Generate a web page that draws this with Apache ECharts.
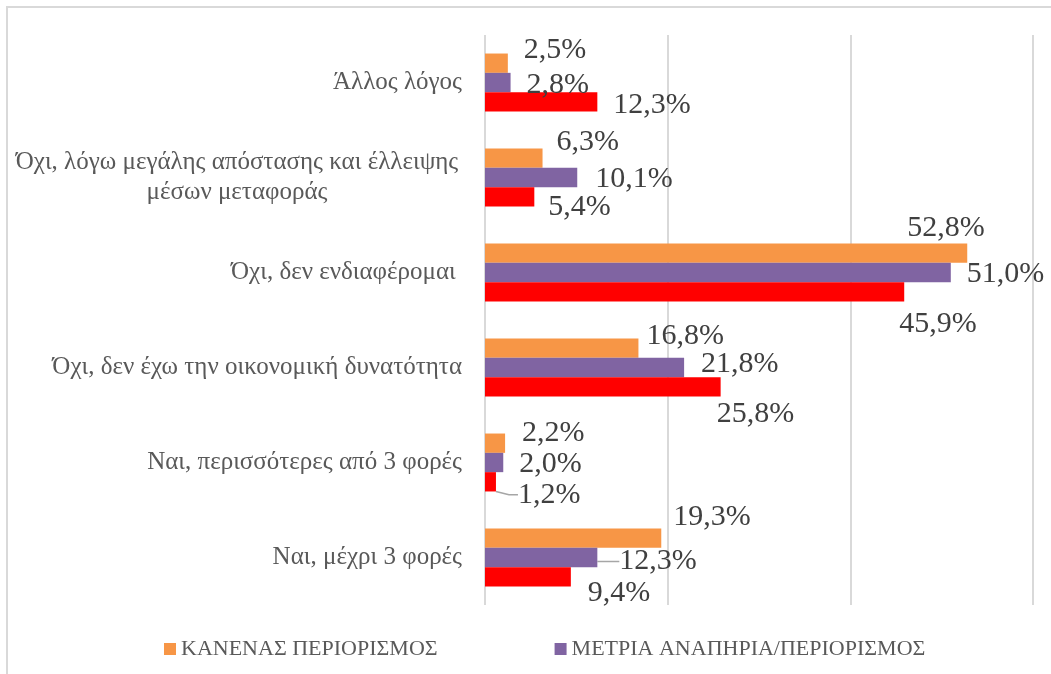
<!DOCTYPE html>
<html>
<head>
<meta charset="utf-8">
<script src="https://cdn.jsdelivr.net/npm/echarts@6/dist/echarts.min.js"></script>
<style>
  html, body { margin: 0; padding: 0; background: #fff; overflow: hidden; }
  .frame { position: absolute; left: 6px; top: 6px; width: 1200px; height: 900px; border: 2px solid #d9d9d9; }
  #chart { position: absolute; left: 0; top: 0; width: 1051px; height: 674px; }
</style>
</head>
<body>
<div class="frame"></div>
<div id="chart"></div>
<script>
// categories listed top to bottom (axis is inverted)
const categories = [
  'Άλλος λόγος',
  'Όχι, λόγω μεγάλης απόστασης και έλλειψης\nμέσων μεταφοράς',
  'Όχι, δεν ενδιαφέρομαι ',
  'Όχι, δεν έχω την οικονομική δυνατότητα',
  'Ναι, περισσότερες από 3 φορές',
  'Ναι, μέχρι 3 φορές'
]
const seriesNames = ['ΚΑΝΕΝΑΣ ΠΕΡΙΟΡΙΣΜΟΣ', 'ΜΕΤΡΙΑ ΑΝΑΠΗΡΙΑ/ΠΕΡΙΟΡΙΣΜΟΣ', 'ΣΟΒΑΡΗ ΑΝΑΠΗΡΙΑ/ΠΕΡΙΟΡΙΣΜΟΣ']
const noLimit   = [2.5, 6.3, 52.8, 16.8, 2.2, 19.3]
const moderate  = [2.8, 10.1, 51.0, 21.8, 2.0, 12.3]
const severe    = [12.3, 5.4, 45.9, 25.8, 1.2, 9.4]
const xTicks = [0, 20, 40, 60]

// label nudges (px) to mimic the original's hand-placed labels
const labelShift = [
  [[16, -13], [14, -16], [-60, -25], [8, -12], [17, -10], [12, -21]],
  [[16, 3], [18, 2], [16, 2], [17, -3], [16, 2], [22, 4]],
  [[16, 3], [14, 10], [-5, 32], [-4, 27], [22, 13], [17, 16]]
]
const leaderLines = [[], [5], [4]]

const colors = ['#f79646', '#8064a2', '#ff0000']
const font = '"Liberation Serif", "DejaVu Serif", serif'

const chart = echarts.init(document.getElementById('chart'))

function makeSeries(values, idx) {
  return {
    name: seriesNames[idx],
    type: 'bar',
    barGap: '0%',
    barCategoryGap: '39%',
    itemStyle: { color: colors[idx] },
    label: {
      show: true, position: 'right', distance: 0,
      fontFamily: font, fontSize: 30, color: '#404040',
      formatter: p => p.value.toFixed(1).replace('.', ',') + '%'
    },
    labelLine: { show: false, length2: 9, lineStyle: { color: '#a6a6a6', width: 1.5 } },
    labelLayout: p => ({ dx: labelShift[idx][p.dataIndex][0], dy: labelShift[idx][p.dataIndex][1] }),
    data: values.map((v, i) => ({
      value: v,
      labelLine: leaderLines[idx].includes(i) ? { show: true } : undefined
    }))
  }
}

chart.setOption({
  animation: false,
  textStyle: { fontFamily: font },
  grid: { left: 485, right: 18, top: 35, bottom: 69 },
  legend: {
    data: seriesNames.slice(0, 2),
    left: 159, top: 633,
    itemWidth: 12, itemHeight: 12, itemGap: 117,
    icon: 'rect',
    textStyle: { fontFamily: font, fontSize: 22, color: '#595959' }
  },
  xAxis: {
    type: 'value', min: xTicks[0], max: xTicks[xTicks.length - 1], interval: 20,
    axisLabel: { show: false },
    axisLine: { show: false },
    axisTick: { show: false },
    splitLine: { lineStyle: { color: '#d9d9d9', width: 2 } }
  },
  yAxis: {
    type: 'category', data: categories, inverse: true,
    axisLine: { show: false },
    axisTick: { show: false },
    axisLabel: {
      margin: 23, fontFamily: font, fontSize: 25, color: '#595959',
      formatter: v => v.includes('\n') ? v.split('\n').map(s => '{c|' + s + '}').join('\n') : v,
      rich: { c: { width: 450, align: 'center', fontFamily: font, fontSize: 25, color: '#595959', lineHeight: 30 } }
    }
  },
  series: [makeSeries(noLimit, 0), makeSeries(moderate, 1), makeSeries(severe, 2)]
})
</script>
</body>
</html>
